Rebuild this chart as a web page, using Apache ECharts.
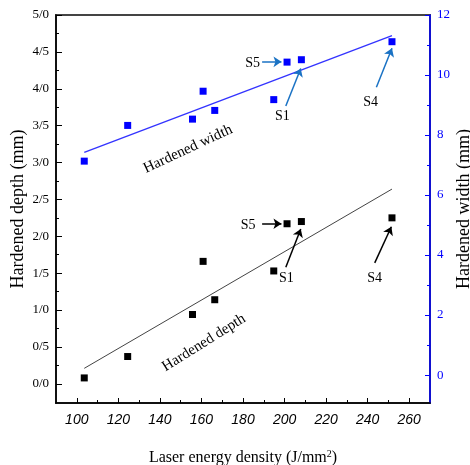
<!DOCTYPE html>
<html>
<head>
<meta charset="utf-8">
<script src="https://cdn.jsdelivr.net/npm/echarts@6/dist/echarts.min.js"></script>
<style>html,body{margin:0;padding:0;background:#fff}#c{width:470px;height:465px}</style>
</head>
<body>
<div id="c"></div>
<script>
// ---- data ----
const energy = [103.6, 124.5, 155.7, 160.8, 166.4, 194.8, 201.2, 208.1, 251.7];
const depth  = [0.08, 0.37, 0.94, 1.66, 1.14, 1.53, 2.17, 2.20, 2.25];
const width  = [7.13, 8.32, 8.53, 9.46, 8.82, 9.18, 10.43, 10.51, 11.11];
const depthFit = [[103.6, 0.21], [251.7, 2.64]];
const widthFit = [[103.6, 7.42], [251.7, 11.31]];

const xMajor = [100, 120, 140, 160, 180, 200, 220, 240, 260];
const xMinor = [110, 130, 150, 170, 190, 210, 230, 250];
const depthTicks = [0, 0.5, 1, 1.5, 2, 2.5, 3, 3.5, 4, 4.5, 5];
const depthTickLabels = ['0/0','0/5','1/0','1/5','2/0','2/5','3/0','3/5','4/0','4/5','5/0'];
const depthMinor = [0.25, 0.75, 1.25, 1.75, 2.25, 2.75, 3.25, 3.75, 4.25, 4.75];
const widthTicks = [0, 2, 4, 6, 8, 10, 12];
const widthMinor = [1, 3, 5, 7, 9, 11];

// annotations (data coordinates)
const depthArrows = [
  [[189.2, 2.17], [198.5, 2.17]],
  [[200.6, 1.58], [207.8, 2.10]],
  [[243.4, 1.64], [251.4, 2.13]]
];
const depthLabels = [['S5', 182.5, 2.155], ['S1', 200.9, 1.43], ['S4', 243.4, 1.43]];
const widthArrows = [
  [[189.2, 10.44], [198.5, 10.44]],
  [[200.6, 8.97], [207.8, 10.22]],
  [[244.2, 9.59], [251.7, 10.89]]
];
const widthLabels = [['S5', 184.6, 10.4], ['S1', 199.0, 8.61], ['S4', 241.4, 9.08]];
const depthCaption = ['Hardened depth', 161.2, 0.556, 32];
const widthCaption = ['Hardened width', 153.5, 7.53, 25];

const SERIF = '"Liberation Serif", "Times New Roman", serif';
const BLUE = '#0000ff';
const ARROW_BLUE = '#1a72c4';

function findLabel(v) {
  const i = depthTicks.findIndex(t => Math.abs(t - v) < 1e-6);
  return i >= 0 ? depthTickLabels[i] : '';
}
function arrowData(arr) {
  return arr.map(a => [{ coord: a[0] }, { coord: a[1] }]);
}
function textData(arr) {
  return arr.map(a => ({ name: a[0], coord: [a[1], a[2]] }));
}

const gridRect = { left: 56, right: 40, top: 15, bottom: 62, outerBoundsMode: 'none', containLabel: false };
const chart = echarts.init(document.getElementById('c'), null, { renderer: 'canvas' });

const labelStyle = {
  show: true, position: 'inside', formatter: '{b}',
  fontFamily: SERIF, fontSize: 14, color: '#000'
};
function captionPoint(c) {
  return [{ name: c[0], coord: [c[1], c[2]], label: Object.assign({}, labelStyle, { fontSize: 15, rotate: c[3] }) }];
}

chart.setOption({
  backgroundColor: '#fff',
  animation: false,
  grid: [
    Object.assign({ show: true, borderColor: '#444', borderWidth: 2, backgroundColor: 'transparent' }, gridRect),
    Object.assign({ show: false }, gridRect)
  ],
  xAxis: [
    {
      type: 'value', gridIndex: 0, min: 90, max: 270, position: 'bottom',
      splitLine: { show: false },
      axisLine: { show: true, onZero: false, lineStyle: { color: '#000', width: 1.5 } },
      axisTick: { show: true, inside: true, length: 5, customValues: xMajor, lineStyle: { color: '#000', width: 1 } },
      axisLabel: { customValues: xMajor, margin: 10, fontFamily: '"Liberation Sans", Arial, sans-serif', fontStyle: 'italic', fontSize: 14, color: '#000' },
      name: 'Laser energy density (J/mm{sup|2})',
      nameLocation: 'middle', nameGap: 46, nameMoveOverlap: false,
      nameTextStyle: { fontFamily: SERIF, fontSize: 16, color: '#000',
        rich: { sup: { fontFamily: SERIF, fontSize: 10, verticalAlign: 'top', padding: [0, 0, 8, 0], color: '#000' } } }
    },
    {
      type: 'value', gridIndex: 1, min: 90, max: 270, position: 'bottom',
      splitLine: { show: false },
      axisLine: { show: false, onZero: false },
      axisTick: { show: true, inside: true, length: 3, customValues: xMinor, lineStyle: { color: '#000', width: 1 } },
      axisLabel: { show: false }
    }
  ],
  yAxis: [
    {
      type: 'value', gridIndex: 0, min: -0.26, max: 5, position: 'left',
      splitLine: { show: false },
      axisLine: { show: true, onZero: false, lineStyle: { color: '#000', width: 1.5 } },
      axisTick: { show: true, inside: true, length: 6, customValues: depthTicks, lineStyle: { color: '#000', width: 1 } },
      axisLabel: { customValues: depthTicks, formatter: findLabel, margin: 7, fontFamily: SERIF, fontSize: 13, color: '#000' },
      name: 'Hardened depth (mm)', nameLocation: 'middle', nameGap: 29, nameRotate: 90, nameMoveOverlap: false,
      nameTextStyle: { fontFamily: SERIF, fontSize: 18, color: '#000' }
    },
    {
      type: 'value', gridIndex: 0, min: -0.93, max: 12, position: 'right',
      splitLine: { show: false },
      axisLine: { show: true, onZero: false, lineStyle: { color: BLUE, width: 1.5 } },
      axisTick: { show: true, inside: true, length: 5, customValues: widthTicks, lineStyle: { color: BLUE, width: 1 } },
      axisLabel: { customValues: widthTicks, margin: 7, fontFamily: SERIF, fontSize: 13, color: BLUE },
      name: 'Hardened width (mm)', nameLocation: 'middle', nameGap: 25, nameRotate: 90, nameMoveOverlap: false,
      nameTextStyle: { fontFamily: SERIF, fontSize: 18, color: '#000' }
    },
    {
      type: 'value', gridIndex: 1, min: -0.26, max: 5, position: 'left',
      splitLine: { show: false },
      axisLine: { show: false, onZero: false },
      axisTick: { show: true, inside: true, length: 3, customValues: depthMinor, lineStyle: { color: '#000', width: 1 } },
      axisLabel: { show: false }
    },
    {
      type: 'value', gridIndex: 1, min: -0.93, max: 12, position: 'right',
      splitLine: { show: false },
      axisLine: { show: false, onZero: false },
      axisTick: { show: true, inside: true, length: 3, customValues: widthMinor, lineStyle: { color: BLUE, width: 1 } },
      axisLabel: { show: false }
    }
  ],
  series: [
    {
      type: 'line', xAxisIndex: 0, yAxisIndex: 0, data: depthFit, showSymbol: false,
      lineStyle: { color: '#444', width: 1 }, silent: true,
      markLine: {
        silent: true, symbol: ['none', 'arrow'], symbolSize: 8,
        lineStyle: { color: '#000', width: 1.5, type: 'solid' }, label: { show: false },
        itemStyle: { color: '#000' },
        data: arrowData(depthArrows)
      },
      markPoint: {
        silent: true, symbol: 'circle', symbolSize: 1, itemStyle: { color: 'rgba(0,0,0,0)' },
        label: labelStyle,
        data: textData(depthLabels).concat(captionPoint(depthCaption))
      }
    },
    {
      type: 'line', xAxisIndex: 0, yAxisIndex: 1, data: widthFit, showSymbol: false,
      lineStyle: { color: '#3333ff', width: 1.3 }, silent: true,
      markLine: {
        silent: true, symbol: ['none', 'arrow'], symbolSize: 8,
        lineStyle: { color: ARROW_BLUE, width: 1.5, type: 'solid' }, label: { show: false },
        itemStyle: { color: ARROW_BLUE },
        data: arrowData(widthArrows)
      },
      markPoint: {
        silent: true, symbol: 'circle', symbolSize: 1, itemStyle: { color: 'rgba(0,0,0,0)' },
        label: labelStyle,
        data: textData(widthLabels).concat(captionPoint(widthCaption))
      }
    },
    {
      type: 'scatter', xAxisIndex: 0, yAxisIndex: 0, symbol: 'rect', symbolSize: 7,
      itemStyle: { color: '#000', opacity: 1 },
      data: energy.map((e, i) => [e, depth[i]])
    },
    {
      type: 'scatter', xAxisIndex: 0, yAxisIndex: 1, symbol: 'rect', symbolSize: 7,
      itemStyle: { color: BLUE, opacity: 1 },
      data: energy.map((e, i) => [e, width[i]])
    }
  ]
});
</script>
</body>
</html>
